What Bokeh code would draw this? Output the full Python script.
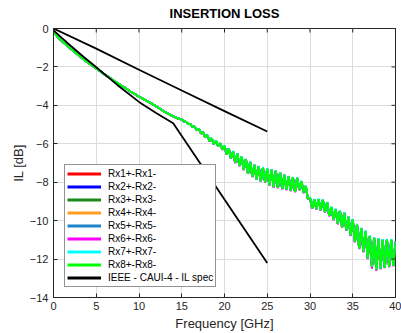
import math
from bokeh.plotting import figure
from bokeh.models import Range1d, FixedTicker, Legend, LegendItem
from bokeh.embed import file_html
from bokeh.resources import INLINE

# ---------------- data ----------------
freq = [0.05, 0.5, 1, 1.5, 2, 2.5, 3, 3.5, 4, 4.5, 5, 5.5, 6, 6.5, 7, 7.5, 8, 8.5, 9, 9.5,
        10, 10.5, 11, 11.5, 12, 12.5, 13, 13.5, 14, 14.5,
        15, 15.25, 15.5, 15.75, 16, 16.25, 16.5, 16.75, 17, 17.25,
        17.5, 17.75, 18, 18.25, 18.5, 18.75, 19, 19.25, 19.5, 19.75,
        20, 20.25, 20.5, 20.75, 21, 21.25, 21.5, 21.75, 22, 22.25,
        22.5, 22.75, 23, 23.25, 23.5, 23.75, 24, 24.25, 24.5, 24.75,
        25, 25.25, 25.5, 25.75, 26, 26.25, 26.5, 26.75, 27, 27.25,
        27.5, 27.75, 28, 28.25, 28.5, 28.75, 29, 29.25, 29.5, 29.75,
        30, 30.25, 30.5, 30.75, 31, 31.25, 31.5, 31.75, 32, 32.25,
        32.5, 32.75, 33, 33.25, 33.5, 33.75, 34, 34.25, 34.5, 34.75,
        35, 35.25, 35.5, 35.75, 36, 36.25, 36.5, 36.75, 37, 37.25,
        37.5, 37.75, 38, 38.25, 38.5, 38.75, 39, 39.25, 39.5, 39.75, 40]

# Rx8 (green, drawn on top); Rx1..Rx5 coincide with it in the picture
rx8 = [-0.18, -0.45, -0.66, -0.86, -1.05, -1.24, -1.42, -1.60, -1.77, -1.92,
       -2.08, -2.24, -2.40, -2.54, -2.70, -2.84, -3.00, -3.12, -3.28, -3.40,
       -3.55, -3.66, -3.79, -3.91, -4.05, -4.19, -4.34, -4.46, -4.57, -4.67,
       -4.74, -4.84, -4.86, -4.97, -4.97, -5.12, -5.10, -5.28, -5.22, -5.46,
       -5.40, -5.66, -5.56, -5.86, -5.72, -6.02, -5.84, -6.12, -5.98, -6.30,
       -6.10, -6.55, -6.25, -6.75, -6.40, -6.98, -6.52, -7.15, -6.68, -7.35,
       -6.80, -7.55, -6.95, -7.70, -7.10, -7.85, -7.18, -7.95, -7.25, -8.00,
       -7.30, -8.15, -7.35, -8.25, -7.40, -8.30, -7.50, -8.35, -7.62, -8.40,
       -7.70, -8.45, -7.75, -8.50, -7.78, -8.40, -7.95, -8.55, -8.20, -8.85,
       -8.82, -9.35, -8.90, -9.40, -8.88, -9.45, -8.92, -9.55, -9.05, -9.75,
       -9.30, -9.95, -9.40, -10.15, -9.50, -10.35, -9.60, -10.50, -9.80, -10.75,
       -9.95, -11.10, -10.20, -11.45, -10.40, -11.60, -10.55, -11.95, -10.80, -12.40,
       -10.90, -12.55, -10.95, -12.50, -11.00, -12.45, -10.98, -12.40, -11.00, -12.35,
       -11.10]

# Rx6 (magenta) peeks out at a few troughs
rx6 = [-0.18, -0.45, -0.67, -0.86, -1.05, -1.24, -1.43, -1.60, -1.77, -1.93,
       -2.08, -2.24, -2.41, -2.54, -2.70, -2.85, -3.00, -3.12, -3.29, -3.40,
       -3.56, -3.66, -3.79, -3.92, -4.05, -4.19, -4.35, -4.46, -4.57, -4.68,
       -4.74, -4.85, -4.86, -4.98, -4.97, -5.13, -5.10, -5.30, -5.22, -5.48,
       -5.40, -5.68, -5.56, -5.88, -5.72, -6.04, -5.84, -6.14, -5.98, -6.32,
       -6.10, -6.57, -6.25, -6.78, -6.40, -7.02, -6.52, -7.18, -6.68, -7.38,
       -6.80, -7.57, -6.95, -7.74, -7.10, -7.87, -7.18, -7.98, -7.25, -8.02,
       -7.30, -8.17, -7.35, -8.28, -7.40, -8.32, -7.50, -8.38, -7.62, -8.42,
       -7.70, -8.47, -7.75, -8.53, -7.78, -8.42, -7.95, -8.58, -8.20, -8.88,
       -8.82, -9.38, -8.90, -9.42, -8.88, -9.48, -8.92, -9.58, -9.05, -9.78,
       -9.30, -9.98, -9.40, -10.20, -9.50, -10.38, -9.60, -10.53, -9.80, -10.80,
       -9.95, -11.13, -10.20, -11.48, -10.40, -11.65, -10.55, -12.00, -10.80, -12.50,
       -10.90, -12.62, -10.95, -12.54, -11.00, -12.48, -10.98, -12.44, -11.00, -12.38,
       -11.10]

# Rx7 (cyan) peeks out at a few peaks
rx7 = [-0.18, -0.45, -0.66, -0.86, -1.05, -1.24, -1.42, -1.60, -1.77, -1.92,
       -2.08, -2.24, -2.40, -2.54, -2.70, -2.84, -3.00, -3.12, -3.28, -3.40,
       -3.55, -3.66, -3.79, -3.91, -4.05, -4.19, -4.34, -4.46, -4.57, -4.67,
       -4.73, -4.84, -4.85, -4.97, -4.96, -5.12, -5.09, -5.28, -5.21, -5.46,
       -5.39, -5.66, -5.54, -5.86, -5.70, -6.02, -5.82, -6.12, -5.96, -6.30,
       -6.08, -6.55, -6.23, -6.75, -6.37, -6.98, -6.49, -7.15, -6.65, -7.35,
       -6.77, -7.55, -6.92, -7.70, -7.07, -7.85, -7.15, -7.95, -7.22, -8.00,
       -7.27, -8.15, -7.32, -8.25, -7.37, -8.30, -7.47, -8.35, -7.59, -8.40,
       -7.67, -8.45, -7.72, -8.50, -7.75, -8.40, -7.92, -8.55, -8.17, -8.85,
       -8.79, -9.35, -8.87, -9.40, -8.85, -9.45, -8.89, -9.55, -9.02, -9.75,
       -9.26, -9.95, -9.36, -10.15, -9.46, -10.35, -9.56, -10.50, -9.76, -10.75,
       -9.91, -11.10, -10.16, -11.45, -10.36, -11.60, -10.51, -11.95, -10.76, -12.40,
       -10.86, -12.55, -10.91, -12.50, -10.96, -12.45, -10.94, -12.40, -10.96, -12.35,
       -11.06]

series_names = ["Rx1+-Rx1-", "Rx2+-Rx2-", "Rx3+-Rx3-", "Rx4+-Rx4-",
                "Rx5+-Rx5-", "Rx6+-Rx6-", "Rx7+-Rx7-", "Rx8+-Rx8-"]
series_values = [rx8, rx8, rx8, rx8, rx8, rx6, rx7, rx8]
series_colors = ["#FF0000", "#0000FF", "#1A8A1A", "#FF9E1F",
                 "#1F86CC", "#FF00FF", "#00FFFF", "#00FF00"]

spec_name = "IEEE - CAUI-4 - IL spec"
spec_upper_f = [0, 5, 10, 15, 20, 25]
spec_upper = [0.0, -1.05, -2.15, -3.23, -4.30, -5.36]
spec_lower_f = [0.01, 1, 2, 3.5, 5, 7.5, 10, 12, 14, 25]
spec_lower = [-0.10, -0.50, -0.90, -1.47, -2.02, -2.95, -3.82, -4.40, -4.93, -12.20]

x_ticks = [0, 5, 10, 15, 20, 25, 30, 35, 40]
y_ticks = [0, -2, -4, -6, -8, -10, -12, -14]

FONT = "Liberation Sans"
AX = "#262626"

p = figure(width=401, height=333, output_backend="svg", toolbar_location=None,
           x_range=Range1d(0, 40), y_range=Range1d(-14, 0),
           min_border_left=53, min_border_right=6, min_border_top=28,
           min_border_bottom=36, background_fill_color="white")

p.title.text = "INSERTION LOSS"
p.title.align = "center"
p.title.vertical_align = "top"
p.title.text_font = FONT
p.title.text_font_style = "bold"
p.title.text_font_size = "13px"
p.title.text_color = "#000000"
p.title.standoff = 11

p.outline_line_color = AX
p.outline_line_width = 1

for ax in [p.xaxis[0], p.yaxis[0]]:
    ax.major_tick_in = 4
    ax.major_tick_out = 0
    ax.minor_tick_line_color = None
    ax.axis_line_color = AX
    ax.major_tick_line_color = AX
    ax.major_label_text_font = FONT
    ax.major_label_text_font_size = "11px"
    ax.major_label_text_color = AX
    ax.axis_label_text_font = FONT
    ax.axis_label_text_font_size = "13px"
    ax.axis_label_text_font_style = "normal"
    ax.axis_label_text_color = AX

p.xaxis[0].major_label_standoff = 4
p.xaxis[0].axis_label_standoff = 3
p.yaxis[0].major_label_standoff = 5
p.yaxis[0].axis_label_standoff = 1

p.xaxis[0].ticker = FixedTicker(ticks=x_ticks)
p.yaxis[0].ticker = FixedTicker(ticks=y_ticks)
p.xaxis[0].axis_label = "Frequency [GHz]"
p.yaxis[0].axis_label = "IL [dB]"

p.xgrid.ticker = FixedTicker(ticks=x_ticks)
p.ygrid.ticker = FixedTicker(ticks=y_ticks)
p.xgrid.grid_line_color = "#dcdcdc"
p.ygrid.grid_line_color = "#dcdcdc"

nan = float("nan")
items = []
for name, vals, col in zip(series_names, series_values, series_colors):
    p.line(freq, vals, line_color=col, line_width=2)
    proxy = p.line([nan], [nan], line_color=col, line_width=3)   # legend sample only
    items.append(LegendItem(label=name, renderers=[proxy]))

p.line(spec_upper_f, spec_upper, line_color="black", line_width=1.8)
p.line(spec_lower_f, spec_lower, line_color="black", line_width=1.8)
spec_proxy = p.line([nan], [nan], line_color="black", line_width=3)
items.append(LegendItem(label=spec_name, renderers=[spec_proxy]))

# inward tick marks on the top and right edges (half of each dash is clipped by the frame)
p.scatter(x=x_ticks, y=[y_ticks[0]] * len(x_ticks), marker="dash", angle=math.pi / 2,
          size=8, line_color=AX, line_width=1)
p.scatter(x=[x_ticks[-1]] * len(y_ticks), y=y_ticks, marker="dash",
          size=8, line_color=AX, line_width=1)

legend = Legend(items=items, location=(11, 10), orientation="vertical",
                glyph_width=34, glyph_height=13, label_height=13, spacing=0,
                padding=2, margin=0, label_standoff=7,
                label_text_font=FONT, label_text_font_size="10px",
                label_text_color="#000000",
                border_line_color=AX, border_line_width=1,
                background_fill_color="white", background_fill_alpha=1.0)
p.add_layout(legend, "center")

open("out.html", "w").write(file_html(p, INLINE))
